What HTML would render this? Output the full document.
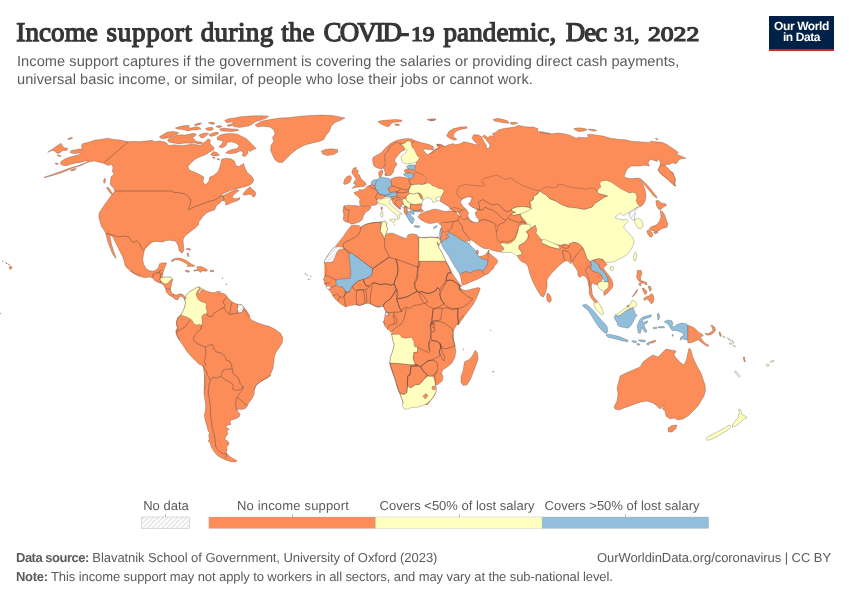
<!DOCTYPE html>
<html lang="en">
<head>
<meta charset="utf-8">
<title>Income support during the COVID-19 pandemic</title>
<style>
html,body{margin:0;padding:0;background:#fff;}
body{text-rendering:geometricPrecision;-webkit-font-smoothing:antialiased;width:850px;height:600px;position:relative;overflow:hidden;font-family:"Liberation Sans",sans-serif;}
#title{position:absolute;left:16.3px;top:15.5px;width:700px;height:32px;font-family:"Liberation Serif",serif;font-weight:normal;-webkit-text-stroke:1.25px #363636;font-size:27px;line-height:32px;color:#363636;white-space:nowrap;}
#title span{position:absolute;top:0;}
.sub{position:absolute;left:16.5px;font-size:14.6px;letter-spacing:0.06px;line-height:17px;color:#5b5b5b;white-space:nowrap;transform-origin:left center;}
#sub1{top:53.8px;}
#sub2{top:71.7px;}
#logo{position:absolute;left:769px;top:16px;width:65px;height:33.2px;background:#002147;border-bottom:2.7px solid #ce261e;color:#fff;font-weight:bold;font-size:12px;line-height:11.6px;text-align:center;letter-spacing:-0.4px;}
#logo span{display:block;}
#logo span:first-child{margin-top:4.8px;}
.leg{position:absolute;top:517px;height:11px;box-sizing:border-box;}
.lt{position:absolute;top:497.6px;font-size:13px;line-height:16px;color:#5b5b5b;white-space:nowrap;transform:translateX(-50%);}
.tick{position:absolute;top:514px;width:1px;height:3px;background:#bbb;}
#title,.sub,.lt,.foot,#logo{will-change:transform;}
.foot{position:absolute;font-size:13px;line-height:16px;color:#5b5b5b;white-space:nowrap;transform-origin:left center;}
.foot b{font-weight:bold;letter-spacing:-0.5px;}
#f2 b{letter-spacing:-0.3px;}
svg#map{position:absolute;left:0;top:0;}
</style>
</head>
<body>
<svg id="map" width="850" height="600" viewBox="0 0 850 600">
<defs>
<pattern id="hatch" patternUnits="userSpaceOnUse" width="3.4" height="3.4" patternTransform="rotate(45)"><rect width="3.4" height="3.4" fill="#fff"/><line x1="1.7" y1="0" x2="1.7" y2="3.4" stroke="#e0e0e0" stroke-width="1.2"/></pattern>
</defs>
<g id="land" stroke="#333" stroke-width="0.27" stroke-linejoin="round">
<g stroke="none">
<path fill="#fc8d59" d="M128.2,141.8L120,140L112.5,139.2L108,138.2L102,139.2L94.5,140.3L88.5,142.2L82.5,143.8L81.3,146L82.5,148.7L79.5,149L75,149.8L70.8,150.8L70.5,152.8L73.5,153.5L78,153.2L81,152.8L80.2,154.2L75,155.8L69,157.2L63.8,159.5L60.8,161.8L60.8,164.3L63.8,165.8L67.5,165.5L70.5,164.3L75,163.2L81,162.2L86.2,160.7L88.5,161L85.5,162.8L81.8,164.3L78,165.8L70.5,167.8L60,171.8L44.2,177.2L44.5,177.8L60,173.3L67.5,170.3L73.5,167.8L81.3,165.5L85.5,163.2L90,161.8L94.5,161L99,162.2L103.5,163.2L106.5,164.8L108.8,165.5L111.8,164.3L113,167.8L112.2,171.5L114,173.8L112.2,176L111,176.8L110.2,184.2L111.8,186.5L113.7,188.3L115,191L150,191L150,141.8Z"/>
<path fill="#fc8d59" d="M128.2,141.8L134,141.4L140,141.8L146,141L152,140.2L155,141.8L159.5,141L164,141.8L167,143.2L168.5,145.5L174.5,144.8L179,145.5L185,145.2L191,144.3L197,144.8L200,145.5L203,143.2L206,141L208.2,138.8L210.5,140.2L209.8,143.2L212,145.5L214.2,147.8L213.5,150L210.5,151.5L208.2,153L206,154.5L200,156.8L195.5,159L191,162.8L188,166.5L188.8,169.5L191.8,171L195.5,172.5L200,174.8L203.8,177L203,181.5L204.5,184.5L206.8,183.8L209,180.8L209.8,177L213.5,175.5L218,171.8L219.5,168L221,162.8L221.8,159L227,158.2L231.5,159L234.5,161.2L236,165.8L239,166.5L243.5,163.5L236,183L218,195L140,195Z"/>
<path fill="#fc8d59" d="M114.8,191L112.5,193.7L108.8,198.9L104.3,204.9L101.8,209L99.2,212.8L98.8,217.2L100.2,222.5L101.8,227L104,230L105.8,233.3L106.7,237.5L107.8,242L109.2,245.8L110.8,249.5L112.2,253.2L114.5,257L116,258.5L115.2,255.5L113.8,251.8L112.7,248L111.5,244.2L110.8,240.5L110,236.8L111.5,235.2L113.8,239L116,243.5L118.2,248L120.5,252.5L122.8,257L124.2,261.5L125,265.2L127.2,268.2L131,271.2L135.5,273.5L140,275L140,275L141.5,260L143.3,251L152,242L170,239L185,230L185,170L114.8,170Z"/>
<path fill="#fc8d59" d="M144.2,251L145.2,248L147.5,245L151.2,242.8L155,241.2L159.5,241.7L163.2,242L165.5,240.8L170,240.2L173,240.8L174.9,240.9L176.4,242.4L177.9,245L178.6,248L179.4,251L181.6,252.9L183.1,252.1L183.8,249.1L183.5,245L183.1,242L183.2,239L185,236L188.8,233L192.5,230L195.5,227.8L198.5,224.8L198.8,221.8L200.8,219.5L202.2,217.2L204.5,215L206.8,212.8L210.5,211.2L215,209.8L215,185L140,185L132.5,230Z"/>
<path fill="#fc8d59" d="M144.2,251L143.3,255.5L142.7,260L143.8,264.5L146,268.2L149,270.5L152.8,271.2L156.5,269.8L158.8,266.8L159.5,263.8L163.2,262.7L166.7,263L165.5,266L164.3,269L163.2,272L162.5,275L140,275L125,245Z"/>
<path fill="#fc8d59" d="M243.5,163.5L245,168L247.2,172.5L251.8,176.2L253.7,180L252.5,183L249.5,185.2L245,186.8L239,188.2L233,189.8L227,192L222.5,194.2L220.2,196.2L221.8,196.2L230,192.3L236,189.6L239,190.5L236,193.1L233,195.3L232.2,198L236,198.8L239.8,197.4L239.4,199.8L236,201.3L231.5,202.8L227.8,204.6L225.5,204.9L225.8,202.5L224,200.7L222.5,200.2L219.5,203.2L216.5,205.5L215,209.2L185,217.5L185,195L227,184.5L240.5,168Z"/>
<path fill="#fc8d59" d="M162.6,275.1L162.2,277.8L166.8,277L170.5,277.3L172.8,279.2L172,282.2L171.2,286L170.5,289.3L171.2,292L173.5,294.2L176.5,295L179.5,293.8L182.5,294.2L184.8,296.5L185.8,298.3L184.8,300.2L183.7,298.3L181.8,296.2L179.2,296.8L178,299.9L175,299.2L172.8,297.2L169.3,295.3L166.4,292.3L165.7,289.3L163.8,285.2L160.8,283.3L157.8,282.2L154.8,280.8L152.5,277.8L149.5,277L145,277.8L139,276.2L134.5,274L130,271L130,265L145,271L160,272.5Z"/>
<path fill="#fc8d59" d="M179.5,340L177.2,335.5L176.5,331.8L178,328L176.8,325L176.5,321.2L178,317.5L181,314.5L183.2,310.8L184.8,307L185.5,302.5L184.8,299.8L185.8,298.3L186.2,295L189.2,292L193,289.8L196.8,287.5L199,286.8L201.2,288.2L199.3,290.8L198.7,293.8L200.2,293.5L200.8,290.5L202.8,288.7L205,290.5L209.5,292L214,292.8L217.8,291.2L220,292.8L223.8,293.5L226,295L227.5,297.2L229.8,299.5L232,301.8L235,303.2L238,304.3L241.8,304.8L244,307.8L246.2,310L250,316L250,340Z"/>
<path fill="#fc8d59" d="M181.2,315L178.2,317.2L176.8,321L176.3,324.8L177.5,327.8L175.7,330.8L176.3,334.5L178.2,338.2L181.2,342.8L184.2,347.2L187.2,351.8L191,356.2L194.8,360L198.5,363.8L202.2,366L203.3,366.8L203.8,370.5L204.5,375L204.8,381L205.2,390L230,390L230,315Z"/>
<path fill="#fc8d59" d="M243.5,308.2L245.8,312L248,315.8L251.8,320.2L257,322.5L263,324.8L269,326.2L275,329.2L280.2,333L282.8,337.5L282.2,342.8L279.5,347.2L275.8,352.5L274.2,357.8L273.8,363L272.8,369L270.5,374.2L266.8,378L261.5,381L257,384L254.8,387.8L254,390L215,390L215,308.2Z"/>
<path fill="#fc8d59" d="M204.8,375L204.5,381L204.2,387L203.9,393L204.8,399L205.7,405L205.4,411L204.2,415.5L205.2,420L206.8,426L208.2,431.2L209.8,432.8L208.7,435L209.3,439.5L208.2,441L210.2,443.2L211.2,447L213.5,450.8L215.8,453.8L218,456L221.8,458.2L226.2,460.2L230.8,461.7L235.2,462L237.2,460.8L234.5,459.3L230.8,457.2L227.8,454.5L226.2,453L227,450L226.7,447L229.2,444L227.8,441L224.8,439.5L225.8,436.5L227.8,434.2L227,431.2L229.2,429L227,427.8L225.8,426.8L227.8,425.2L230.8,424.5L230,421.5L231.2,420L236,418.8L239,417L240.2,414.3L238.2,411.8L236.8,409.8L239,409.2L242,409.5L245.8,408.3L247.2,405.8L248.8,402.8L251.8,399L254,394.5L254.4,390L255.5,386.2L258.5,383.2L263,380.2L267.5,378L270.5,375.8L271.2,375Z"/>
<path fill="#fc8d59" d="M324.4,262.8L324.4,261.3L327.4,256.1L330.4,251.6L332.7,248.6L335.2,246.8L337.5,243.8L340.5,240L343.5,236.2L345.8,232.5L348.8,228.8L351,225.8L354.8,225L359.2,225.8L360.8,227.2L366,224.2L372,222.8L378,222.3L381.8,222L384.8,221.2L387,222.8L386.2,225.8L387.8,228.8L386.2,232.5L385.2,235.5L387.8,233.2L393,233.2L398.2,235.5L403.5,237.8L406.5,238.5L408,234.8L412.5,233.7L417,234.8L418.2,237L423,237.8L429,237L435,237.3L438.8,237L438.8,285L324.4,285Z"/>
<path fill="#fc8d59" d="M324.5,262.8L326,267.2L326.3,271.8L325.2,275.5L323.3,279.2L325.2,283L326.8,286.8L329,289.8L331.2,292.8L332.8,295.8L335,298.8L338,301.8L341.8,304.8L345.5,307L350,305.5L355.2,304.8L359.8,305.5L363.5,304.3L368,303.2L372.5,304.8L376.2,306.7L380,307L382.2,304.8L384.5,308.5L386,311.5L385.2,314.5L384.5,318.2L383.8,322L386,325L440,325L440,262.8Z"/>
<path fill="#fc8d59" d="M418.8,237.2L424,238L430,237.2L435.2,237.7L439.3,238.3L440.5,241.8L439.3,245.2L436.8,241.8L438.2,246.2L441.2,251.5L444.2,257.5L445.8,261.2L448,265L450.2,269.5L453.2,274.8L456.2,279.2L459.2,283L461.5,286L460,287.5L462.2,289.8L466,290.5L472,289L478,287.5L480.2,288.2L478.8,292.8L476.5,298L473.5,304L469,310L464.5,316L460.8,321.2L458.5,325L400,325L400,244Z"/>
<path fill="#fc8d59" d="M383,321L384.5,325.5L387.5,329.2L390.5,331.5L391.7,334.5L392.8,339.8L394.2,345L392.8,351L390.5,357L389.8,363L391.2,369L393.5,375L395.8,381L397.2,387L398.8,391.5L401,396.8L402.5,401.2L403.2,405L425,405L425,321Z"/>
<path fill="#fc8d59" d="M464,315L460.2,319.5L457.2,324L454.2,329.2L452.8,333L453.5,339L455,345.8L455.8,351L455,357L452,363L447.5,366.8L443,369.8L441.5,372.8L443,376.5L442.2,381L438.5,384L435.5,385.5L436.2,389.2L435.8,393L433.2,397.5L430.2,401.2L427.2,405L410,405L410,315Z"/>
<path fill="#fc8d59" d="M414.5,140.5L417,141.2L421,142.5L425,143.5L429,144.5L432.5,146L434,148L433,150L429,149.5L425,149L422.5,149.5L424,151L425.5,153L427.5,154.5L430,153.5L433,152.5L434,151L435,149.5L438,149L440.5,147.5L439.5,145.5L436.5,144.5L439,144L442.5,145L445,147L445,175L416,175L415.8,164.5L416.2,163L417,160.2L416,157L414,151L411,147L410.2,141.8Z"/>
<path fill="#fc8d59" d="M415,165L415,168L414.5,170.2L416,172.2L420,173.5L424,175.5L426.5,178.5L426,181L424.5,182.5L425,184L428,183L430,183.5L432,185.5L435,186.5L439,188.5L443,189L444,191.5L442.5,194L441.5,196.4L440.9,198L440.3,199.5L439.7,200.7L441.5,202L444,203.5L446.4,205L448.6,206.6L450.1,208.4L450.8,209.7L475,209.5L475,165Z"/>
<path fill="#fc8d59" d="M430,153.6L433.8,150.2L438.2,148L436.8,144.7L441.2,145L442.8,147.2L448,145L453.2,143.5L454.8,144.7L460,143.8L463.8,141.7L469,142.8L474.2,144.2L478.8,145L475,142L472,138.2L473.5,134.8L478,134.8L481.8,136.8L483.2,140.5L486.2,145L487,148.8L489.2,148L490,145L487.8,142L485.2,138.7L482.5,136L484.8,135.2L487.8,137.5L490.8,135.7L494.5,136.8L492.2,133.8L496,132.2L498.2,130L503.5,128.5L509.5,127.8L514.8,127L518.5,125.2L522.2,126.2L527.5,127L533.5,127L538,128.8L537.2,131.2L541.8,131.8L546.2,132.7L550,133.3L550,195.2L430,195.2Z"/>
<path fill="#fc8d59" d="M540,132.7L546,133.3L552,133.8L558,133L564,133.8L570,135.2L576,138.2L579,137.2L585,137.8L588.8,137.2L587.2,134.8L591,134.2L597,135.2L603,136L610.5,138.2L618,139.3L625.5,139.8L631.5,141.2L639,141.7L645,142.3L650,142.4L650,160.3L540,160.3Z"/>
<path fill="#fc8d59" d="M650,159.4L648,163L649.5,166L645,165.2L639,166L631.5,166L627,169L624,176.5L627,178L633,178.8L638.2,178L638.2,195.2L540,195.2L540,159.4Z"/>
<path fill="#fc8d59" d="M650,141.2L656,141.7L662,142.3L666.5,144.2L671,147.2L675.5,150.2L678.5,152.5L676.2,154L681.5,156.2L686,158.2L681.5,158.8L678.5,160L677,163L674.8,163.8L672.5,162.7L669.5,164.5L665.8,164.5L664.2,166.8L665,169L669.5,170.5L673.2,172.8L674,176.5L675.5,179.5L674.8,183.2L675.5,186.2L672.5,184L668.8,180.2L665,177.2L661.2,174.2L658.2,170.5L659.8,167.5L660.5,163L659,159.2L656.8,161.5L653,160L650,159.2Z"/>
<path fill="#fc8d59" d="M638.2,178.1L640,180L643,184.5L645.2,189.8L646,195.8L645.2,201L643,204.8L640,207L637.8,206.2L625,210L580,210L580,180L623.5,180Z"/>
<path fill="#fc8d59" d="M451.2,175L560,175L560,265L530,265L525.5,256L522.5,252.2L515,250.8L506,250L497.8,249.2L491,247L485,245.5L479,241L472.2,238L468.5,235L461,235L452,230.5L446,226L443,224.5L444.5,220L451.2,214L452,210.2L451.2,207.2Z"/>
<path fill="#fc8d59" d="M530,225L620,225L618.5,255L611,261L605,261.8L602,270L596,270L590,276L585.5,270L580.2,273L575,264.8L572,260.7L567.5,258.8L562.2,260.2L556.2,264.8L550.2,270.8L545,279.8L545,288L542.3,295.2L538.7,288.8L533.8,277.5L531.5,273Z"/>
<path fill="#fc8d59" d="M360,193L368,188.2L377,185L380,179L392,180.5L405,179L414,178L414,195L405,197L399,199L397,195L389,195L378,199L368,204.5L361.5,203.5Z"/>
<path fill="#fc8d59" d="M401,185L425,185L425,191L421,195L420.5,203L420,209L410,210L406,207L403,205Z"/>
</g>
<g fill="none">
<path d="M128.2,141.8L120,140L112.5,139.2L108,138.2L102,139.2L94.5,140.3L88.5,142.2L82.5,143.8L81.3,146L82.5,148.7L79.5,149L75,149.8L70.8,150.8L70.5,152.8L73.5,153.5L78,153.2L81,152.8L80.2,154.2L75,155.8L69,157.2L63.8,159.5L60.8,161.8L60.8,164.3L63.8,165.8L67.5,165.5L70.5,164.3L75,163.2L81,162.2L86.2,160.7L88.5,161L85.5,162.8L81.8,164.3L78,165.8L70.5,167.8L60,171.8L44.2,177.2L44.5,177.8L60,173.3L67.5,170.3L73.5,167.8L81.3,165.5L85.5,163.2L90,161.8L94.5,161L99,162.2L103.5,163.2L106.5,164.8L108.8,165.5L111.8,164.3L113,167.8L112.2,171.5L114,173.8L112.2,176L111,176.8L110.2,184.2L111.8,186.5L113.7,188.3L115,191"/>
<path d="M128.2,141.8L134,141.4L140,141.8L146,141L152,140.2L155,141.8L159.5,141L164,141.8L167,143.2L168.5,145.5L174.5,144.8L179,145.5L185,145.2L191,144.3L197,144.8L200,145.5L203,143.2L206,141L208.2,138.8L210.5,140.2L209.8,143.2L212,145.5L214.2,147.8L213.5,150L210.5,151.5L208.2,153L206,154.5L200,156.8L195.5,159L191,162.8L188,166.5L188.8,169.5L191.8,171L195.5,172.5L200,174.8L203.8,177L203,181.5L204.5,184.5L206.8,183.8L209,180.8L209.8,177L213.5,175.5L218,171.8L219.5,168L221,162.8L221.8,159L227,158.2L231.5,159L234.5,161.2L236,165.8L239,166.5L243.5,163.5"/>
<path d="M114.8,191L112.5,193.7L108.8,198.9L104.3,204.9L101.8,209L99.2,212.8L98.8,217.2L100.2,222.5L101.8,227L104,230L105.8,233.3L106.7,237.5L107.8,242L109.2,245.8L110.8,249.5L112.2,253.2L114.5,257L116,258.5L115.2,255.5L113.8,251.8L112.7,248L111.5,244.2L110.8,240.5L110,236.8L111.5,235.2L113.8,239L116,243.5L118.2,248L120.5,252.5L122.8,257L124.2,261.5L125,265.2L127.2,268.2L131,271.2L135.5,273.5L140,275"/>
<path d="M144.2,251L145.2,248L147.5,245L151.2,242.8L155,241.2L159.5,241.7L163.2,242L165.5,240.8L170,240.2L173,240.8L174.9,240.9L176.4,242.4L177.9,245L178.6,248L179.4,251L181.6,252.9L183.1,252.1L183.8,249.1L183.5,245L183.1,242L183.2,239L185,236L188.8,233L192.5,230L195.5,227.8L198.5,224.8L198.8,221.8L200.8,219.5L202.2,217.2L204.5,215L206.8,212.8L210.5,211.2L215,209.8"/>
<path d="M144.2,251L143.3,255.5L142.7,260L143.8,264.5L146,268.2L149,270.5L152.8,271.2L156.5,269.8L158.8,266.8L159.5,263.8L163.2,262.7L166.7,263L165.5,266L164.3,269L163.2,272L162.5,275"/>
<path d="M243.5,163.5L245,168L247.2,172.5L251.8,176.2L253.7,180L252.5,183L249.5,185.2L245,186.8L239,188.2L233,189.8L227,192L222.5,194.2L220.2,196.2L221.8,196.2L230,192.3L236,189.6L239,190.5L236,193.1L233,195.3L232.2,198L236,198.8L239.8,197.4L239.4,199.8L236,201.3L231.5,202.8L227.8,204.6L225.5,204.9L225.8,202.5L224,200.7L222.5,200.2L219.5,203.2L216.5,205.5L215,209.2"/>
<path d="M162.6,275.1L162.2,277.8L166.8,277L170.5,277.3L172.8,279.2L172,282.2L171.2,286L170.5,289.3L171.2,292L173.5,294.2L176.5,295L179.5,293.8L182.5,294.2L184.8,296.5L185.8,298.3L184.8,300.2L183.7,298.3L181.8,296.2L179.2,296.8L178,299.9L175,299.2L172.8,297.2L169.3,295.3L166.4,292.3L165.7,289.3L163.8,285.2L160.8,283.3L157.8,282.2L154.8,280.8L152.5,277.8L149.5,277L145,277.8L139,276.2L134.5,274L130,271"/>
<path d="M179.5,340L177.2,335.5L176.5,331.8L178,328L176.8,325L176.5,321.2L178,317.5L181,314.5L183.2,310.8L184.8,307L185.5,302.5L184.8,299.8L185.8,298.3L186.2,295L189.2,292L193,289.8L196.8,287.5L199,286.8L201.2,288.2L199.3,290.8L198.7,293.8L200.2,293.5L200.8,290.5L202.8,288.7L205,290.5L209.5,292L214,292.8L217.8,291.2L220,292.8L223.8,293.5L226,295L227.5,297.2L229.8,299.5L232,301.8L235,303.2L238,304.3L241.8,304.8L244,307.8L246.2,310L250,316"/>
<path d="M181.2,315L178.2,317.2L176.8,321L176.3,324.8L177.5,327.8L175.7,330.8L176.3,334.5L178.2,338.2L181.2,342.8L184.2,347.2L187.2,351.8L191,356.2L194.8,360L198.5,363.8L202.2,366L203.3,366.8L203.8,370.5L204.5,375L204.8,381L205.2,390"/>
<path d="M243.5,308.2L245.8,312L248,315.8L251.8,320.2L257,322.5L263,324.8L269,326.2L275,329.2L280.2,333L282.8,337.5L282.2,342.8L279.5,347.2L275.8,352.5L274.2,357.8L273.8,363L272.8,369L270.5,374.2L266.8,378L261.5,381L257,384L254.8,387.8L254,390"/>
<path d="M204.8,375L204.5,381L204.2,387L203.9,393L204.8,399L205.7,405L205.4,411L204.2,415.5L205.2,420L206.8,426L208.2,431.2L209.8,432.8L208.7,435L209.3,439.5L208.2,441L210.2,443.2L211.2,447L213.5,450.8L215.8,453.8L218,456L221.8,458.2L226.2,460.2L230.8,461.7L235.2,462L237.2,460.8L234.5,459.3L230.8,457.2L227.8,454.5L226.2,453L227,450L226.7,447L229.2,444L227.8,441L224.8,439.5L225.8,436.5L227.8,434.2L227,431.2L229.2,429L227,427.8L225.8,426.8L227.8,425.2L230.8,424.5L230,421.5L231.2,420L236,418.8L239,417L240.2,414.3L238.2,411.8L236.8,409.8L239,409.2L242,409.5L245.8,408.3L247.2,405.8L248.8,402.8L251.8,399L254,394.5L254.4,390L255.5,386.2L258.5,383.2L263,380.2L267.5,378L270.5,375.8L271.2,375"/>
<path d="M324.4,262.8L324.4,261.3L327.4,256.1L330.4,251.6L332.7,248.6L335.2,246.8L337.5,243.8L340.5,240L343.5,236.2L345.8,232.5L348.8,228.8L351,225.8L354.8,225L359.2,225.8L360.8,227.2L366,224.2L372,222.8L378,222.3L381.8,222L384.8,221.2L387,222.8L386.2,225.8L387.8,228.8L386.2,232.5L385.2,235.5L387.8,233.2L393,233.2L398.2,235.5L403.5,237.8L406.5,238.5L408,234.8L412.5,233.7L417,234.8L418.2,237L423,237.8L429,237L435,237.3L438.8,237"/>
<path d="M324.5,262.8L326,267.2L326.3,271.8L325.2,275.5L323.3,279.2L325.2,283L326.8,286.8L329,289.8L331.2,292.8L332.8,295.8L335,298.8L338,301.8L341.8,304.8L345.5,307L350,305.5L355.2,304.8L359.8,305.5L363.5,304.3L368,303.2L372.5,304.8L376.2,306.7L380,307L382.2,304.8L384.5,308.5L386,311.5L385.2,314.5L384.5,318.2L383.8,322L386,325"/>
<path d="M418.8,237.2L424,238L430,237.2L435.2,237.7L439.3,238.3L440.5,241.8L439.3,245.2L436.8,241.8L438.2,246.2L441.2,251.5L444.2,257.5L445.8,261.2L448,265L450.2,269.5L453.2,274.8L456.2,279.2L459.2,283L461.5,286L460,287.5L462.2,289.8L466,290.5L472,289L478,287.5L480.2,288.2L478.8,292.8L476.5,298L473.5,304L469,310L464.5,316L460.8,321.2L458.5,325"/>
<path d="M383,321L384.5,325.5L387.5,329.2L390.5,331.5L391.7,334.5L392.8,339.8L394.2,345L392.8,351L390.5,357L389.8,363L391.2,369L393.5,375L395.8,381L397.2,387L398.8,391.5L401,396.8L402.5,401.2L403.2,405"/>
<path d="M464,315L460.2,319.5L457.2,324L454.2,329.2L452.8,333L453.5,339L455,345.8L455.8,351L455,357L452,363L447.5,366.8L443,369.8L441.5,372.8L443,376.5L442.2,381L438.5,384L435.5,385.5L436.2,389.2L435.8,393L433.2,397.5L430.2,401.2L427.2,405"/>
<path d="M414.5,140.5L417,141.2L421,142.5L425,143.5L429,144.5L432.5,146L434,148L433,150L429,149.5L425,149L422.5,149.5L424,151L425.5,153L427.5,154.5L430,153.5L433,152.5L434,151L435,149.5L438,149L440.5,147.5L439.5,145.5L436.5,144.5L439,144L442.5,145L445,147"/>
<path d="M430,153.6L433.8,150.2L438.2,148L436.8,144.7L441.2,145L442.8,147.2L448,145L453.2,143.5L454.8,144.7L460,143.8L463.8,141.7L469,142.8L474.2,144.2L478.8,145L475,142L472,138.2L473.5,134.8L478,134.8L481.8,136.8L483.2,140.5L486.2,145L487,148.8L489.2,148L490,145L487.8,142L485.2,138.7L482.5,136L484.8,135.2L487.8,137.5L490.8,135.7L494.5,136.8L492.2,133.8L496,132.2L498.2,130L503.5,128.5L509.5,127.8L514.8,127L518.5,125.2L522.2,126.2L527.5,127L533.5,127L538,128.8L537.2,131.2L541.8,131.8L546.2,132.7L550,133.3"/>
<path d="M540,132.7L546,133.3L552,133.8L558,133L564,133.8L570,135.2L576,138.2L579,137.2L585,137.8L588.8,137.2L587.2,134.8L591,134.2L597,135.2L603,136L610.5,138.2L618,139.3L625.5,139.8L631.5,141.2L639,141.7L645,142.3L650,142.4"/>
<path d="M650,159.4L648,163L649.5,166L645,165.2L639,166L631.5,166L627,169L624,176.5L627,178L633,178.8L638.2,178"/>
<path d="M650,141.2L656,141.7L662,142.3L666.5,144.2L671,147.2L675.5,150.2L678.5,152.5L676.2,154L681.5,156.2L686,158.2L681.5,158.8L678.5,160L677,163L674.8,163.8L672.5,162.7L669.5,164.5L665.8,164.5L664.2,166.8L665,169L669.5,170.5L673.2,172.8L674,176.5L675.5,179.5L674.8,183.2L675.5,186.2L672.5,184L668.8,180.2L665,177.2L661.2,174.2L658.2,170.5L659.8,167.5L660.5,163L659,159.2L656.8,161.5L653,160L650,159.2"/>
<path d="M638.2,178.1L640,180L643,184.5L645.2,189.8L646,195.8L645.2,201L643,204.8L640,207L637.8,206.2"/>
</g>
<g fill="none" stroke-width="0.38">
<path d="M128.2,141.8L104.2,162.5"/>
<path d="M105.8,233.3L111.5,234.5L117.5,236.8L125,236L128.8,236.8L131,240.5L134,242.8L136.2,240.5L139.2,242.8L141.5,248L144.2,251"/>
<path d="M114.8,191L171.5,191L173,192.2L179,192.8L185,194L188.8,197L191,200L190.2,204.5L188,209L188.8,209.8L192.5,207.5L198.5,205.2L203,203.8L209,201.5L215,200"/>
<path d="M215,199.9L218,198L221,195.8L223.2,196.5L224,199.5L222.8,201"/>
<path d="M152.5,277.8L153.2,274L156.2,272.8L159.2,272.5L160,270.2L162.2,270.2"/>
<path d="M159.2,272.5L160.8,275.5L160,278.5L157.8,281.5"/>
<path d="M162.2,272.5L160.8,275.2"/>
<path d="M166,288.7L170.8,289.3"/>
<path d="M172.8,295.8L173.8,293.8"/>
<path d="M160.8,280.8L160,283.3"/>
<path d="M227.5,297.2L224.5,299.5L223,302.5L225.2,305.5L223.8,307.8"/>
<path d="M206.5,313.8L208,316L211.8,316.8L214,313L217,311.5L220,309.2L223.8,307.8L226,311.5L230.2,314.5L233.5,313.8L238,313L241.8,312.2L244,307.8"/>
<path d="M232,302.2L230.8,307L230.2,311.5L230.2,314.5"/>
<path d="M238.3,304.3L237.2,308.5L238,313"/>
<path d="M176.5,331.8L181,329.5L185.5,326.5L188.5,322L190,319.3"/>
<path d="M200.8,329.2L197.5,331.8L194.5,335.5L193.3,339.2L196,343L199.8,344.8L203.5,346.3L205.3,347.2"/>
<path d="M205.2,347.2L206,352.5L205.2,357.8L204.2,361.5L206,364.5L203.3,366.8"/>
<path d="M205.2,347.2L209.8,345L212.8,344.7L213.5,348L215.8,351.8L221.8,353.2L224.8,356.2L226.2,360L230,361.5L231.5,365.2L232.2,369"/>
<path d="M232.2,369L227.8,369L223.2,370.2L221.8,373.5L221,376.5"/>
<path d="M221,376.5L216.5,378L212.8,377.2L210.5,380.2"/>
<path d="M203.3,366.8L206,370.5L207.5,375L210.5,380.2"/>
<path d="M232.2,369L233,373.5L236.8,376.5L239,379.5L240.2,384L243.2,386.7"/>
<path d="M210.5,380.2L209.3,384L208.7,387L208.2,393L209.3,399L210.2,405L210.5,411L210.8,417L211.7,423L212.3,429L214.2,434.2L215,439.5L215.3,444L216.5,448.5L219.5,451.5L223.2,453.8L226.7,453.8L225.5,458.2"/>
<path d="M236.8,409.8L235.7,405L236,399.8L237.2,397.2L240.5,399.8L244.2,402.8L247.2,405.8"/>
<path d="M237.2,397.2L239.3,393.8L242.8,389.2L243.2,386.7"/>
<path d="M221,376.5L226.2,380.2L231.5,383.2L233.8,386.2L232.2,388.8L236,390.3L239.8,389.7L243.2,386.7"/>
<path d="M360.8,227.2L366,224.2L372,222.8L378,222.3L381.8,222L381,226.5L380.2,231L383.2,235.5L384.8,239.2L384.3,244.5L385.5,249.8L388.5,255L389.2,257.2L381,262.5L372.8,268.5L368.2,265.5L362.2,261L356.2,256.5L350.2,252.8L344.2,248.2L343.2,246.8L343.5,243.8L345.8,241.5L350.2,240L354,237.8L357.8,235.5L360,231.8L360.8,227.2"/>
<path d="M417,267L419.6,266.7L419.7,261.1"/>
<path d="M418.2,237L418.8,247.5L419.2,261"/>
<path d="M343.2,247.8L349.2,253.8"/>
<path d="M325.2,275.5L329,276.2L332.8,278.5L335.8,280"/>
<path d="M324.5,283.3L330.2,283"/>
<path d="M372.5,268.8L389,257.5L395.8,259L397.2,263.5L398,269.5L397.2,275.5L395,280L394.2,283.8L391.2,285.2L386,283.8L380,284.5L375.5,283L372.5,283L369.5,286L366.5,286L364.2,283L363.5,279.2L368.8,277L371.8,274.8L372.5,268.8"/>
<path d="M395.8,259L418.2,267.2L417.5,278.5L415.2,283L414.5,286.8L417.5,291.2L413,293.5L407.8,296.5L402.5,298L398,298.8L395.8,294.2L397.2,289.8L395,286L394.2,283.8L395,280L397.2,275.5L398,269.5L397.2,263.5L395.8,259"/>
<path d="M372.5,283L375.5,283L380,284.5L386,283.8L391.2,285.2L394.2,283.8L395,286L395.8,289.8L393.5,294.2L390.5,298.8L387.5,301L384.5,303.2L383,306.2L380,307L376.2,306.7L372.5,304.8L370.2,303.2L370.2,298L371,292L371.8,286.8L372.5,283"/>
<path d="M354.5,283.8L358.2,280.8L363.5,279.2L364.2,283L366.5,286L369.5,286.3L367.2,289L363.5,289.8L359,289.8L356,290.5L353.8,289L352.2,286.8L354.5,283.8"/>
<path d="M356.8,290.5L359,289.9L363.5,289.9L364.2,295L365,301L363.5,304.3L359.8,305.5L356.8,304.8L356,298L356.8,290.5"/>
<path d="M365.8,289.8L366.5,295L366.8,303.2"/>
<path d="M345.5,292.8L350,291.7"/>
<path d="M345.8,306.7L344.8,301.8L344,297.2L345.8,292.3L344,289.3"/>
<path d="M329,289.8L331.2,287.5L336.2,285.2"/>
<path d="M332.8,295.8L335,295L337.2,293.8L339.5,296.5L338,301"/>
<path d="M339.5,296.5L342.5,297.7L344.8,295L345.8,292.3"/>
<path d="M384.5,308.5L383,306.2L384.5,303.2L387.5,301L390.5,298.8L393.5,294.2L395.8,289.8L397.2,289.8L398,295L396.5,298.8L398,303.2L399.5,307.8L401.8,311.5L398,312.2L393.5,312.2L388.2,312.7L386,311.5L384.5,308.5"/>
<path d="M398,298.8L402.5,298L407.8,296.5L413,293.5L417.5,291.2L422,294.2L425,298L428,301.8L425,303.2L419,304.8L413.8,305.5L410,308.5L406.2,307L402.5,309.2L401.8,311.5L399.5,307.8L398,303.2L396.5,298.8L398,298.8"/>
<path d="M388.4,315.4L388.7,312.7"/>
<path d="M393.5,312.4L394.2,316L397.2,319L396.5,323.5L393.5,325"/>
<path d="M418.8,261.2L445.8,261.2L448,265L450.2,269.5L451,272.5L448,273.2L446.5,277L445.8,280.8L443.5,284.5L441.2,286.8L439.8,289.8L437.5,287.5L436,290.5L433,292L429.2,293.5L424.8,292.8L421,291.2L418.8,292.8L416.5,290.5L415,286.8L414.2,282.2L416.5,278.5L417.2,272.5L417.7,267.2L418.8,261.2"/>
<path d="M451,272.5L448,273.2L446.5,277L446.5,280.8L450.2,280L453.2,280.8L456.2,283L459.2,285.6L461.5,286.3"/>
<path d="M459.2,285.7L459.7,289.8L462.2,289.8"/>
<path d="M446.5,280.8L450.2,280L453.2,280.8L456.2,283L459.2,285.6L459.7,289.8L462.2,292L467.5,296.5L472.8,298.8L467.5,304L463,307L457.8,308.5L452.5,309.2L448,307L444.2,304L441.2,299.5L439.8,295L441.2,291.2L443.5,286.8L445.8,283L446.5,280.8"/>
<path d="M457.8,308.5L457.8,316L458.5,325"/>
<path d="M418.8,292.8L421,291.2L424.8,292.8L429.2,293.5L433,292L436,290.5L437.5,287.5L439.8,289.8L439.8,295L441.2,299.5L444.2,304L441.2,305.5L437.5,307.8L433.8,308.5L430,307L426.2,304.8L422.5,301L420.2,297.2L418.8,292.8"/>
<path d="M389.8,363L395,363.3L402.5,363.8L410,364.8L415.2,364.5L417.5,364.8L417.2,366L410.8,366.3L410,375L407.8,375.8L407.3,385.5L407,393L404,394.5L400.2,393L398.8,391.5L389.8,363"/>
<path d="M410.8,366.3L417.2,366L420.5,366.8L423.5,371.2L427.2,375L425,378L422,381.8L419,384.8L415.2,384.8L413,387L409.2,388.5L407.3,385.5L407.8,375.8L410,375L410.8,366.3"/>
<path d="M420.5,366.8L424.2,363.8L428,360.8L432.5,360L436.2,361.5L437.8,366L437,371.2L434,375L430.2,376.5L427.2,375L423.5,371.2L420.5,366.8"/>
<path d="M413.8,352.5L417.5,351.8L417.5,347.2L420.5,348.8L425,351L428.8,352.5L430.2,351L428.8,348.8L428.8,342.8L431.8,340.5L437,341.2L440,343.5L440.8,347.2L439.2,351.8L440,355.5L436.2,357.8L432.5,360L428,360.8L424.2,363.8L420.5,366.8L417.5,364.8L415.2,364.5L413,358.5L413.8,352.5"/>
<path d="M440,343.5L441.5,347.2L442.2,352.5L444.5,356.2L444.2,360.8L442.2,359.2L440.8,355.5L439.2,351.8L440.8,347.2L440,343.5"/>
<path d="M431.8,321.8L438.5,321L444.5,323.2L452,328.5L453.5,333L452.8,339L455,345.8L451.2,347.2L446,348.8L441.5,348L440,343.5L437,341.2L431.8,340.5L430.2,334.5L431,329.2L430.2,325.5L431.8,321.8"/>
<path d="M430.2,325.5L433.2,324.8L432.5,321.8"/>
<path d="M430.7,323.2L432.8,323.2"/>
<path d="M387.5,329.2L389,325.5L393.5,324L395,319.5L392.8,316.5L395,315"/>
<path d="M434.8,375.8L435.2,381L435.5,385.5"/>
<path d="M437,371.2L434.8,375.8"/>
<path d="M416,162L416.4,163.4L415.2,164.7"/>
<path d="M441.5,196.4L440.9,198L440.3,199.5L439.7,200.7L441.5,202L444,203.5L446.4,205L448.6,206.6L450.1,208.4L450.8,209.7"/>
<path d="M406.2,307.8L405.5,313L404,319L401,324.2L397.2,326.5L393.5,329.5L391.2,331.8"/>
<path d="M433.2,309.2L432.5,314.5L431.8,319.8L431,323.5L430.2,328L431.8,331.8L431,336.2L429.5,340L428.8,344.5L429.5,350.5"/>
<path d="M433.2,309.2L437.8,307.8L442.2,308.5L441.5,313.8L440.8,319.8L435.5,320.8L431.8,320.2L432.5,314.5L433.2,309.2"/>
<path d="M442.2,308.5L446,307.8L452,309.2L458,308.5"/>
<path d="M458,308.5L457.7,316L458.3,323.5"/>
<path d="M431,323.5L434,322.8L434.3,326.8L431.8,328"/>
<path d="M434.3,326.8L434.8,331L432.2,332.2"/>
<path d="M200,266.8L200.2,272"/>
</g>
<g>
<path fill="#fc8d59" d="M47.7,152.3L52.5,149L60.8,143.3L62.2,145.2L63.8,147.8L67.5,148.2L67.2,150.2L62.2,150.8L60,152.8L57,153.5L54.8,151.2L52.5,150.2L49.5,151.7Z"/>
<path fill="#fc8d59" d="M72.7,137.8L72.1,138.5L70.4,139.2L68.6,139.5L67.7,139.2L68.3,138.5L70,137.8L71.8,137.5Z"/>
<path fill="#fc8d59" d="M61.4,156.3L60.7,156.6L59.1,156.3L57.6,155.7L57.1,155.2L57.8,154.9L59.4,155.2L60.9,155.8Z"/>
<path fill="#fc8d59" d="M58.2,164L57.7,164.4L56.6,164.4L55.6,164L55.2,163.4L55.7,163L56.8,163L57.8,163.4Z"/>
<path fill="#fc8d59" d="M76.3,168.7L75.7,169.6L73.8,170.5L71.7,171L70.7,170.7L71.3,169.8L73.2,168.9L75.3,168.4Z"/>
<path fill="#fc8d59" d="M106.5,187.7L108.3,187.2L111,191L112.5,194.3L111,194L108,190.2Z"/>
<path fill="#fc8d59" d="M105.4,181L104.9,182.7L104.1,183.3L103.6,182.5L103.7,180.6L104.2,178.9L105,178.3L105.5,179.1Z"/>
<path fill="#fc8d59" d="M217.2,137.2L220.2,135L225.5,133.8L231.5,133.5L237.5,134.2L242,136.5L246.5,138.8L249.5,141.8L253.2,145.5L256.2,148.5L252.5,150L250.2,151.5L247.2,150L248,153L245,156.8L242,155.2L243.5,152.2L240.5,150.8L236,153L230,153.8L225.5,153L228.5,150.8L233,149.2L237.5,148.5L239,145.5L236,143.2L231.5,141.8L227,142.5L226.2,145.5L222.5,147.8L218.8,147L221.8,144L223.2,141L219.5,140.2L217.2,139.5Z"/>
<path fill="#fc8d59" d="M210.5,154.5L213.5,151.5L217.2,152.7L219.5,155.2L215.8,156L212.8,155.7Z"/>
<path fill="#fc8d59" d="M215.2,158.3L214.7,158.6L213.6,158.4L212.7,157.8L212.4,157.3L212.9,157L214,157.2L214.9,157.8Z"/>
<path fill="#fc8d59" d="M219.6,159.8L219.1,160L218.1,159.9L217.3,159.4L217,158.8L217.5,158.6L218.5,158.7L219.3,159.2Z"/>
<path fill="#fc8d59" d="M255,125L261.2,121.2L270,119.5L280,118L290,117.5L300,116.2L310,115.5L322.5,115L332.5,115.5L340,117L345,118L341.2,120L335,122.5L331.2,126.2L329.5,131.2L326.2,135L323.8,139.5L320,141.2L312.5,143L305,145L297.5,148.8L291.2,153.8L286.2,158.8L282.5,162.5L278.8,162.5L275,160L272.5,155L270.5,150L271.2,145L273.8,141.2L272.5,137.5L275,133.8L273.8,130L270,127L262.5,126.2L257.5,127Z"/>
<path fill="#fc8d59" d="M321.2,151.2L325,149.5L331.2,148.8L337.5,149.5L338,152L333.8,154.5L327.5,155.5L323,154.2Z"/>
<path fill="#fc8d59" d="M242.8,194.2L245,191.2L248,188.2L250.2,186.8L252.2,189.3L254,190.5L255.8,192.8L255.2,195.8L253.2,197.2L251.8,195L249.5,194.2L246.5,195L244.2,195Z"/>
<path fill="#ffffbf" d="M160,278.5L162.2,277.4L166.8,277L170.5,277.3L172.8,279.2L170.5,280L169,282.2L166.8,283.8L164.5,283.8L162.2,282.2L160.8,280.8Z"/>
<path fill="#ffffbf" d="M181,314.5L183.2,310.8L184.8,307L185.5,302.5L184.8,299.8L185.8,298.3L186.2,295L189.2,292L193,289.8L196.8,287.5L199,286.8L199.3,289L197.5,291.2L196,293.5L196.8,296.5L198.2,299.5L201.2,301.8L205,302.5L206.5,304.8L205.8,307.8L207.2,311.5L206.5,313.8L203.5,314.5L201.7,316.8L202.3,320.5L202,325L200.8,329.2L201.6,325L199.8,324.6L196,325L193.8,323.5L192.2,320.5L189.2,318.2L186.2,316.8L183.2,316Z"/>
<path fill="url(#hatch)" d="M238.3,304.3L241.8,304.8L244,307.8L241.8,312.2L238.3,313L237.2,308.8Z"/>
<path fill="url(#hatch)" d="M220.9,291.4L220.6,291.8L220,292L219.4,291.8L219.1,291.4L219.4,291L220,290.8L220.6,291Z"/>
<path fill="#fc8d59" d="M343.5,183.5L344.5,179.5L347,176.5L350,175.5L351.5,177L351,180L349.5,182.5L346.5,184L344.5,184.5Z"/>
<path fill="#fc8d59" d="M352,171L353.5,168L356.5,167.5L356,170L358.5,170.5L357.5,173.5L359.5,175L361,178.5L363.5,181L365.5,182.5L366,185L363.5,186.5L359,187L355,187.5L352,188.5L354.5,186L356,184.5L353.5,183.5L354.5,181L356.5,180L355,177.5L353.5,175L352,173.5Z"/>
<path fill="#fc8d59" d="M354,192.5L358.5,191L359.5,189.5L362,190L365,189L367,186.5L369,185.5L371.5,187.5L374.5,189L377,190.5L378,192.5L376.5,195L375.5,197L376.5,199L377,201.5L378,203L376,205L372.5,205.5L370,206.5L368,207L364.5,207L360,205.5L359.5,202L360,199L357.5,196L355,194.5Z"/>
<path fill="#91bfdb" d="M371,183L372.5,180.5L375,179.5L377,179.8L376,182.5L375,185L375,186L373.5,185.5L371.5,184.8Z"/>
<path fill="#fc8d59" d="M369,185.5L371.5,184.8L373.5,185.5L375,186L375.5,188.5L377,190.5L374.5,189L371.5,187.5Z"/>
<path fill="#91bfdb" d="M377,179.8L379.5,177.5L383,177.2L386,178L389.5,178.5L391,181L391.5,184.5L390.5,187L388,188.5L389,190.5L390.5,192.5L389.5,194.5L387,195L384,195.5L382,194.5L379,194.2L378,192.5L377,190.5L375.5,188.5L375,186L376,182.5Z"/>
<path fill="#fc8d59" d="M378.5,172.5L380.5,170.5L382.5,170L382.8,172.5L382,175L381,176.8L379.5,177.2L378.8,174.5Z"/>
<path fill="#fc8d59" d="M384.5,174L386.5,173.5L387,175L385.5,176Z"/>
<path fill="#fc8d59" d="M391,179L395,177.2L400,176.8L405,177.5L408.5,178.5L409.5,182L410.5,185.5L409,188.5L407,190L404,189.5L400.5,188.8L397,187.5L393.5,186.2L391.5,184.5L391,181Z"/>
<path fill="#fc8d59" d="M388,188.5L390.5,187L393.5,186.2L397,187.5L400.5,188.8L399,191L396,192L393.5,192.2L390.5,192.5L389,190.5Z"/>
<path fill="#91bfdb" d="M384,195.5L387,195L389.5,194.5L390.5,192.5L393.5,192.2L396,192L397.5,194.5L396.5,196.2L393.5,196.8L390.5,197.2L388,196.4L385.5,196.4Z"/>
<path fill="#fc8d59" d="M376.5,195L378,192.5L379,194.2L382,194.5L384,195.5L385.5,196.4L383.5,197.6L381,198.6L378.5,199L376.8,200L376.5,199L375.5,197Z"/>
<path fill="#fc8d59" d="M399,191L400.5,188.8L404,189.5L407,190L409,188.8L408.5,191.5L405,192.5L401,193L398.5,192.8L396,192Z"/>
<path fill="#fc8d59" d="M397.5,194.5L396,192L398.5,192.8L401,193L405,192.5L408.5,191.6L409.5,193.5L407,196L404,197.7L400.5,198.2L398,197.2L396.5,196.2Z"/>
<path fill="#fc8d59" d="M390.5,197.2L393.5,196.8L396.5,196.2L398,197.2L396,198L393.5,199L391.5,199Z"/>
<path fill="#fc8d59" d="M391.5,199L393.5,199L396,198L398,197.2L400.5,198.2L402.5,199.5L401,200.5L398,200L396,200.5L395,202.5L397,205L399,207L401,209L400,209.5L396.5,207L394,204.5L392.5,202Z"/>
<path fill="#fc8d59" d="M396,200.5L398,200L401,200.5L403,202L402.5,204.5L401,206.5L400,208L399,207L397,205L395,202.5Z"/>
<path fill="#fc8d59" d="M378,121.5L382,120.5L388,120L395,119.5L401.5,120L402,121.2L398,122L394,122.2L391,123.5L389.5,126L387.5,126.8L384,125.5L381,124L379,122.8Z"/>
<path fill="#fc8d59" d="M394.5,124.2L397,123.8L399.5,124.5L399,125.5L396,125.5Z"/>
<path fill="#fc8d59" d="M427,119.5L431,119L436,119.2L435,120.2L431,120.8L428.5,120.2Z"/>
<path fill="#fc8d59" d="M372.5,159L373.5,157L377,155L381,153L384.5,149L387.5,146L390.5,143.5L394,141.5L398,140L403,139L408,138.5L412,139L414.5,140.5L414,142L412,142.5L411,141.8L409.5,140.8L407.5,141L406,142.2L404,143.8L401.5,144L399.5,143.3L398,142.3L396,142.8L393.5,143.8L390.5,145.8L389,148.8L387.5,151.8L385,154.3L384.5,157L385,160L385.5,163L384.5,166L383.5,168L381.5,169L379,168.5L376,167.5L374,166L373,163Z"/>
<path fill="#fc8d59" d="M398,142.3L399.5,143.3L402,145L403.5,146.5L405,149L404.5,150L401.5,151.5L399.5,153.5L397.5,156L395.5,158.5L394.5,161L396,162.5L397,164.5L395.5,166.5L394,169L393.5,172L392,174L390.5,175.5L386.5,175.5L385,172L384,169L383.5,168L384.5,166L385.5,163L385,160L384.5,157L385,154.3L387.5,151.8L389,148.8L390.5,145.8L393.5,143.8L396,142.8Z"/>
<path fill="#ffffbf" d="M399.5,143.3L401.5,144L404,143.8L406,142.2L407.5,141L409.5,140.8L411,142L411.5,144.5L412,147L414.5,149.5L416,153L417.5,156L419.5,158L418.5,160L416,162L413.5,163L410,163.7L406.5,164L403.5,163L401.8,161L401,158L401.5,156L403.5,154.5L406,152.5L407,150.5L405,149L403.5,146.5L402,145Z"/>
<path fill="#91bfdb" d="M406.5,166.5L409,165L415,165L415,168L414.5,170.2L411,169.7L408,168.7Z"/>
<path fill="#fc8d59" d="M404,171L405,169.5L408,168.7L411,169.7L414.5,170.2L416,172.2L414,175L412,173.3L409,172.9L406,173.3Z"/>
<path fill="#91bfdb" d="M403.5,174L406,173.3L409,172.9L412,173.3L414,175L413.5,177L411.5,178.5L408.5,178.5L407,176.5L404.5,175.8Z"/>
<path fill="#fc8d59" d="M414,175L416,172.2L420,173.5L424,175.5L426.5,178.5L426,181L424.5,182.5L425,184L422,184.7L419,184.2L415,184.6L411,185L410,182.5L409,181L411.5,178.5L413.5,177Z"/>
<path fill="#ffffbf" d="M411,185L415,184.6L419,184.2L422,184.7L425,184L428,183L430,183.5L432,185.5L435,186.5L439,188.5L443,189L444,191.5L442.5,194L441.5,196.4L439.7,196.7L437.2,197.3L435.3,198.3L435.7,199.5L436.6,200.1L438.1,200.7L437.2,201.3L435.3,201.6L433.8,202.6L432.9,202.3L432.3,201L431.3,198.9L429,198L427,197L425,198.5L423.5,199.7L422.5,197.5L421.8,195.5L420,193.5L418.2,193L417,193.2L413.5,194.2L410.5,193.7L408.5,192.8L409,189.5L410.5,187Z"/>
<path fill="#fc8d59" d="M418.2,193L420,193.5L421.8,195.5L422.5,197.5L422,199.2L420.8,198.5L420,196.5L419,195Z"/>
<path fill="#ffffbf" d="M408.5,194L410.5,193.7L413.5,194.2L417,193.2L418.2,193L419,195L420,196.5L420.8,198.5L422,199.5L423.5,199.8L422.5,201.5L421.5,203.8L418.5,204.2L415,204.7L412.5,204.2L410,203.2L407.5,201.5L406,199.5L406.5,196.5Z"/>
<path fill="#ffffbf" d="M402.5,199.5L405,198.5L406,199.5L407.5,201.5L410,203.2L410.5,205L410.5,207L409,208.2L407,208L407,206.5L405,206L403.5,204.5L403,202Z"/>
<path fill="#fc8d59" d="M410.5,205L412.5,204.2L415,204.7L418.5,204.2L421.5,203.8L422,205.5L421,207.5L421.5,209.2L419,210.2L416,210.7L413,210.7L410.8,209.2L410.5,207Z"/>
<path fill="url(#hatch)" d="M407,208L409,208.2L410.8,209.2L410.7,211.2L408.5,212L406.8,211.2Z"/>
<path fill="url(#hatch)" d="M401.2,205L403.5,204.5L405,206L404,207L402.8,207.8L401.5,206.8Z"/>
<path fill="#fc8d59" d="M405,206L407,206.5L407,208L406,208.2L405.2,207.2Z"/>
<path fill="#fc8d59" d="M404,207L405.2,207.2L406,208.2L407,208.2L406.8,211.2L407.5,213.2L406.2,215L404.5,213.5L403.8,210.5Z"/>
<path fill="#91bfdb" d="M406.8,211.2L408.5,212L410.7,211.2L413,210.7L416,210.7L419,210.2L419.5,211.5L417.5,212L415,211.5L413.5,212.5L414.5,214L412.5,214.5L411.5,213L410,214L411.5,216L413.5,218L414.5,220L413,220.5L413.5,222.5L412,224L410,222L408.5,219.5L407,217L406.2,215L407.5,213.2Z"/>
<path fill="#fc8d59" d="M419,210.2L421.5,209.2L423.5,210.5L422.5,212L420.5,212.2L419.5,211.5Z"/>
<path fill="#ffffbf" d="M377.5,201.5L379.5,200L382,199L385,198L388,197.5L390,198.5L391,200L389.5,201L389,202.5L390,204.5L392.5,206.5L395.5,209L398.5,211.5L401,213L402,214.5L400,214L399,215L400,217L398.5,219.5L397,219L397.5,217L396.5,215L394.5,213L391.5,211L389,208.5L386.5,206L384,204.5L381,204L379,203.5Z"/>
<path fill="#ffffbf" d="M389.5,220L392.5,219L395.8,219.5L395,221.5L393.5,222.5L391,221.2Z"/>
<path fill="#ffffbf" d="M380.8,212L382.5,211.5L383,214L382.8,216.5L381.2,216.8L380.6,214.5Z"/>
<path fill="#fc8d59" d="M381,207.5L382,206.5L382.5,208.5L381.8,210L381,209.5Z"/>
<path fill="#91bfdb" d="M414,225.8L416.5,225.5L419.5,226L419.8,227.2L417,227.5L414.5,227Z"/>
<path fill="#91bfdb" d="M433.2,227.5L435,226.5L437.2,225.5L436.8,227L435,228.2L433.8,228.5Z"/>
<path fill="#fc8d59" d="M394.8,225L394.7,225.2L394.5,225.2L394.3,225.2L394.2,225L394.3,224.8L394.5,224.8L394.7,224.8Z"/>
<path fill="#fc8d59" d="M343.9,205.9L348,205.2L355.5,205.5L362.2,206.4L368.2,205.8L371.2,207.3L369.3,210L365.7,212.2L363.3,216L362.2,219.8L359.2,222L354.8,223.5L351,224.2L349.2,222.8L348.3,222.3L347.7,219L348.3,214.5L349.2,210L345,209.2Z"/>
<path fill="#fc8d59" d="M343.9,205.9L345,209.2L349.2,210L348.3,214.5L347.7,219L348.3,222.3L345,221.7L343.2,219.8L343.8,214.5L342.8,210.8Z"/>
<path fill="url(#hatch)" d="M335.2,246.8L343.2,246.8L343.2,249L339,249.8L336.8,252.8L335.2,256.5L333.3,261.8L325.2,262.8L324.4,261.3L327.4,256.1L330.4,251.6L332.7,248.6Z"/>
<path fill="#ffffbf" d="M381.8,222L384.8,221.2L387,222.8L386.2,225.8L387.8,228.8L386.2,232.5L385.2,235.5L384.3,239.2L383.2,235.5L380.2,231L381,226.5Z"/>
<path fill="#91bfdb" d="M349.2,253.8L351.5,253L372.5,268.8L371.8,274.8L368.8,277L363.5,279.2L358.2,280.8L354.5,283.8L351.5,286.8L350,291.2L346.2,292L344,289L342.5,286.8L338.8,286.8L336.2,284.5L335.8,280L339.5,279.2L344.8,278.8L350,278.2L350.8,272.5L350,265L349.2,257.5Z"/>
<path fill="url(#hatch)" d="M325.7,286.3L329,286L331.2,286.8L330.5,289L328.2,289.3L326.3,287.8Z"/>
<path fill="url(#hatch)" d="M385.2,312.7L388.2,312.7L388.4,315.2L385.2,315.2Z"/>
<path fill="#ffffbf" d="M418.8,237.2L424,238L430,237.2L435.2,237.7L439.3,238.3L440.5,241.8L439.3,245.2L436.8,241.8L438.2,246.2L441.2,251.5L444.2,257.5L445.8,261.2L418.8,261.2Z"/>
<path fill="#ffffbf" d="M391.7,334.5L399.5,334.2L401.8,337.5L406.2,338.2L411.5,337.2L413.8,341.2L414.5,346.5L417.5,347.2L417.5,351.8L413.8,352.5L413,358.5L415.2,364.5L410,364.8L402.5,363.8L395,363.3L389.8,363L390.5,357L392.8,351L394.2,345L392.8,339.8Z"/>
<path fill="#ffffbf" d="M390.8,331.8L392.3,331.2L392.8,333.8L391.2,333.8Z"/>
<path fill="#fc8d59" d="M475.2,350.2L477.2,352.5L478.2,358.5L476.8,363L474.5,369L472.2,375L470,380.2L467,384.8L463.2,385.5L461,382.5L461,376.5L463.2,370.5L464,364.5L464.8,361.5L468.5,360L471.5,357L473.8,353.2Z"/>
<path fill="#fc8d59" d="M493.9,371.7L493.7,372.1L493.2,372.3L492.8,372.1L492.6,371.7L492.8,371.3L493.2,371.1L493.7,371.3Z"/>
<path fill="#fc8d59" d="M463.7,349.2L463.6,349.4L463.2,349.5L462.9,349.4L462.8,349.2L462.9,349L463.2,348.9L463.6,349Z"/>
<path fill="#fc8d59" d="M491,330.4L490.9,330.7L490.7,330.8L490.5,330.7L490.4,330.4L490.5,330.2L490.7,330.1L490.9,330.2Z"/>
<path fill="#ffffbf" d="M400.2,393.2L404,394.8L407,392.5L407.8,385.8L410,388L413,386.8L415.2,384.7L419,384.7L422,382L425,378.2L427.7,376.3L431,376.3L433.7,376.8L434.8,381.2L435.5,385L436.2,389.2L435.8,392.5L433.2,397L430.2,400.8L426.5,403.8L422,406L416.8,407.2L411.5,407.5L407,409.3L404,408.7L402.5,406L403.2,402.2L401.8,398.5Z"/>
<path fill="#fc8d59" d="M422.8,396.2L425.8,393.6L428,395.5L425.3,398.9Z"/>
<path fill="#fc8d59" d="M431.8,387.2L433.7,385.8L435.8,387.2L434.8,389.8L432.5,389.5Z"/>
<path fill="#fc8d59" d="M446.5,136L448.8,131.5L453.2,128.8L460,127L466.8,126.7L467.2,128.2L461.5,129.2L457,130.8L454,133.8L453.2,136.8L457,139.3L454.8,140.2L450.2,138.7Z"/>
<path fill="#fc8d59" d="M493,119.5L497.5,118.3L503.5,119.5L508,121L508.8,123.2L503.5,122.8L498.2,121.8L494.5,121Z"/>
<path fill="#fc8d59" d="M510.2,122.5L514.8,122.2L517.8,123.2L514,124.5L510.7,124Z"/>
<path fill="#fc8d59" d="M430,119.2L435.7,118.9L434.5,120.2L430,120.7Z"/>
<path fill="#fc8d59" d="M573.8,128.5L579,127.8L585,128.5L587.2,129.7L583.5,131.2L578.2,131.5L575.2,130Z"/>
<path fill="#fc8d59" d="M588,129.2L592.5,129.2L596.7,130.3L594,131.2L590.2,130.3Z"/>
<path fill="#fc8d59" d="M658.1,139.6L657.5,139.8L656.5,139.5L655.6,138.9L655.4,138.4L656,138.2L657,138.5L657.9,139.1Z"/>
<path fill="#fc8d59" d="M639.2,177.8L643,180.8L647.5,185.2L652,190.5L657.2,197.2L656.5,198.3L653.5,195.8L649.8,191.2L646,186.8L642.2,182.2Z"/>
<path fill="#fc8d59" d="M655.8,201L658,200.2L661.8,203.2L665.5,203.7L666.7,205.5L664,206.7L661.8,208.5L660.2,210L658,208.5L656.5,205.5Z"/>
<path fill="#fc8d59" d="M660.2,210.8L662.5,211.5L664.8,215.2L666.2,219.8L667.8,224.2L667,227.2L664,228L661.8,228.8L659.5,230.2L656.5,231.8L653.5,231L650.5,230.2L649,228.8L651.2,226.8L654.2,225.8L657.2,224.2L659.5,221.2L661,216.8Z"/>
<path fill="#fc8d59" d="M646.8,231L649,229.8L651.2,231.8L652.8,234L652,237L649.8,236.7L647.8,234.3Z"/>
<path fill="#fc8d59" d="M653.5,232.2L657.2,231.3L658,232.8L655,233.7Z"/>
<path fill="#fc8d59" d="M658,169.5L660.2,165L664.8,165L668.5,168.8L672.2,173.2L675.2,177.8L674.5,181.5L675.2,186L672.2,183.8L668.5,180L664.8,177L661,174Z"/>
<path fill="#fc8d59" d="M539.5,190.8L542.5,188.5L547,186.7L553,187.8L557.5,187L558.2,184L563.5,184.8L568,186.7L574,187.8L580,188.2L586,189.2L590.5,187.8L595,188.5L597.2,192.2L599.5,193.8L604,194.8L607.8,196L604,197.5L599.5,200.5L595,203.5L592,207.2L584.5,209.5L575.5,208L568,207.2L562,205L556,201.2L550,199L546.2,195.2L542.5,193Z"/>
<path fill="#ffffbf" d="M539.5,190.8L542.5,193L546.2,195.2L550,199L556,201.2L562,205L568,207.2L575.5,208L584.5,209.5L592,207.2L595,203.5L599.5,200.5L604,197.5L607.8,196L604,194.8L599.5,193.8L597.2,192.2L598,189.2L601,187L599.5,183.2L601.8,181L606.2,180.2L611.5,182.2L616,185.5L620.5,188.5L625,190.8L629.5,193L633.2,192.2L636.2,193.8L637,197.5L636.2,201.2L638.5,205L640,206.5L636.2,208L631.8,211L627.2,213.2L623.5,215.5L620.5,213.2L617.5,214.8L615.2,217.8L619,219.2L623.5,220L626.5,219.2L628,221.5L625,224.5L623.5,227.5L626.5,230.5L629.5,234.2L632,236.5L634,240.2L633.5,244.4L631,249.7L627.5,254.2L623,257.2L618.5,259.4L614,261.7L609.5,262.4L605,262.4L602.8,259.4L599,258.7L594.5,259.8L593,260.2L590,261.7L587,258.7L585.5,254.9L584,250.4L582.5,247.4L580,245.5L577.8,243.2L574,242.2L570.2,244L568.8,245.5L565,244L561.2,245.2L557.5,244.8L551.5,243.2L546.2,241L541,239.5L537.2,235.8L535,232L532.8,228.2L529.8,226.8L526.8,223.8L524.5,220L522.2,217.8L520,214.8L521.5,212.5L524.5,210.2L529,208L531.2,205.8L529.8,202L533.5,199.3L532.8,196.8L538,193.8Z"/>
<path fill="url(#hatch)" d="M629.5,212.2L632.5,210L635.5,208.5L637.8,206.7L637,209.2L634.8,211.5L635.5,213.8L634.3,216.8L634.8,219.8L632.5,220.2L630.2,217.5L628.8,215.2Z"/>
<path fill="#ffffbf" d="M634.8,219.8L637.8,218.2L640.8,219.8L642.7,222.8L643,226.5L640.8,228.8L637.8,228L636.2,225L634.8,222.8Z"/>
<path fill="#fc8d59" d="M425,211.8L429,210.8L433,209.2L437,209.2L441,210.5L445,211.5L449.5,210.8L453,211.5L456,212L458,215L459.5,216.5L458.5,218.5L458,220.5L454,221.5L450,222L446,222.5L442.5,222.2L441,223.5L440,225L439,223L437,222L434,223L430,223.5L427,223L425,222L421,220L418,217L419.5,214.5L422.5,213Z"/>
<path fill="#fc8d59" d="M441,223.5L442.5,222.2L446,222.5L450,222L454,221.5L452.5,224.5L452,228L448.5,230.5L445,232.5L442.5,231.5L441.5,230L442,227.5L441,225.5Z"/>
<path fill="#fc8d59" d="M440.5,228.5L441.5,227.5L442,229.5L441,230.8L440,230.8Z"/>
<path fill="#91bfdb" d="M439.8,231.2L441,230.8L441.8,232L441.5,234.5L441,237.5L440.5,240L439.8,237.5L439.5,234Z"/>
<path fill="#fc8d59" d="M441.8,232L442.5,231.5L445,232.5L448.5,230.5L449.5,232.5L446.5,235L449,236.5L447.5,238.5L445,239.5L443,241.5L441,241.8L440.6,240L441,237.5L441.5,234.5Z"/>
<path fill="#fc8d59" d="M454,221.5L458,220.5L459.5,222.5L461.5,225L463,227.5L462.5,229.5L464.5,232.5L467,235.5L469,238.5L469.5,240.5L467,240.7L465,242L461.5,240L457,237L452,234L449.5,232.5L448.5,230.5L452,228L452.5,224.5Z"/>
<path fill="#ffffbf" d="M467,240.8L469.5,240.5L470.5,243L469,244L467.5,242.5Z"/>
<path fill="#91bfdb" d="M441,242L443,241.5L445,239.5L447.5,238.5L449,236.5L446.5,235L449.5,232.7L452,234L457,237L461.5,240L465,242L467.5,242.5L469,244L471,246L474,249L476.5,251L477,254L479.5,256.5L481,258L485,259.5L488,260.5L487.2,265L485,269L482.5,271L479.5,269.8L473.5,271L470.5,273.2L466,271.7L461.5,273.2L460,274.7L457.7,271L454.7,266.5L451.7,261.2L448.7,256L445.7,251.5L442.7,247Z"/>
<path fill="#fc8d59" d="M476.8,250.5L478,250L478.5,253L477.5,254.5L476.8,253Z"/>
<path fill="#fc8d59" d="M479.5,256.5L482,256L485,255L487,252.5L488.5,251L489,253L488,255L488.5,257L487.8,259.5L485,259.5L481,258Z"/>
<path fill="#fc8d59" d="M489,253L491,254.5L494,257L497,259.5L497.8,261.5L496.5,264L494.5,266L493,269L490.5,271L488,274L485,275L483,273L482.5,271L485,269L487.2,265L488,260.5L487.8,259.5L488.5,257L488,255Z"/>
<path fill="#fc8d59" d="M488,250.5L489,250L489.2,252L488.4,251.8Z"/>
<path fill="#fc8d59" d="M460,274.7L461.5,273.2L466,271.7L470.5,273.2L473.5,271L479.5,269.8L482.5,271L483,273L485,275L481,277.5L477,279.5L473,281L469.5,282.5L466.5,284L462.2,285.2L461.2,280Z"/>
<path fill="#fc8d59" d="M458,220.5L458.5,218.5L459.5,216.5L460.5,215.5L462.5,216.5L465,215.5L467.5,218L469,220.5L472,222L476,222.5L479,221.5L481,220L485,219.8L489,221L493,222.5L495,224.5L495.5,228.5L496.5,231.5L498.5,234.5L499.5,237.5L499,239.5L501,241.5L503.5,243.5L504,247L502,250L501,252L497,251.5L493,250.5L490,249.5L489,248.5L486.5,249L483,248L479.5,246L476,243.5L473,241L471,240L469.5,240.5L469,238.5L467,235.5L464.5,232.5L462.5,229.5L463,227.5L461.5,225L459.5,222.5Z"/>
<path fill="url(#hatch)" d="M455.8,211.8L457.5,211.5L459.5,213.5L460.5,215.5L459.5,216.2L458,215L456.5,213.5Z"/>
<path fill="#fc8d59" d="M450.2,208.8L453.5,207.2L458.8,208.8L462.5,210.2L459.5,211.8L456.2,212.2L455,211Z"/>
<path fill="#fc8d59" d="M459.5,211.8L462.5,210.2L465.5,208.8L468.5,212.5L470,217L466.2,218.5L464,220L461,217.3L460.2,215.5L458.8,212.8Z"/>
<path fill="#fc8d59" d="M457.2,190L459.5,186.2L465.5,184.3L473.8,185.5L483.5,186.2L485,184.3L481.2,181.8L483.5,178.8L491,176.5L497,175L500,176.5L504.5,179.5L510.5,178L515,181L521,184.8L527,187L533,189.2L539,190.8L537.5,193.8L533.8,196L533,199.8L529.2,202L530,204.2L531.5,208.8L527.8,207.2L521.8,206.5L516.5,207.2L512,208.8L511.2,210.2L507.5,211.8L503.8,210.2L500.8,206.5L497.8,204.2L492.5,205L488,202.8L482.8,199.8L478.2,202L479.3,205L479.8,210.2L476,208.8L472.2,207.2L468.5,204.2L470.8,201.2L472.2,197.5L467.8,196.8L462.5,199L458.8,196.8L456.8,193.8Z"/>
<path fill="#fc8d59" d="M479.3,205L478.2,202L482.8,199.8L488,202.8L492.5,205L497.8,204.2L500.8,206.5L503.8,210.2L507.5,211.8L511.2,210.2L512,211L515.8,212.2L512.8,213.2L510.5,214.8L508.2,217.8L506,220L503,219.2L500,216.2L497,213.2L492.5,210.2L488,208.8L485,207.2L482.8,210.2L479.8,210.2Z"/>
<path fill="#fc8d59" d="M476,208.8L479.8,210.2L482.8,210.2L485,207.2L488,208.8L492.5,210.2L497,213.2L500,216.2L503,219.2L506,220L504.5,222.2L500.8,223.8L497.8,226L494,223L489.5,220.8L485,219.2L481.2,220L478.2,221.5L475.2,217Z"/>
<path fill="#ffffbf" d="M512,208.8L516.5,207.2L521.8,206.5L527.8,207.2L531.5,208.8L527.8,211L524,212.5L520.2,214L516.5,214.8L513.5,215.2L510.5,214.8L512.8,213.2L515.8,212.2L512,211Z"/>
<path fill="#fc8d59" d="M508.2,217.8L510.5,214.8L513.5,215.2L516.5,214.8L520.2,214.3L521.8,219.2L522.5,221.5L518.8,222.7L515,221.5L512,220L509.8,220Z"/>
<path fill="#fc8d59" d="M497.8,226L500.8,223.8L504.5,222.2L506,220L508.2,217.8L509.8,220L512,220L515,221.5L518.8,222.7L522.5,221.5L526.2,223L521.8,222.2L518.8,224.5L518,229L516.5,233.5L515,237.2L512,240.2L508.2,241.8L503,241L500,242.5L497.8,240.2L496.2,235L497,230.5Z"/>
<path fill="#fff" d="M460.2,202L462.5,199L467.8,196.8L472.2,197.5L470.8,201.2L468.5,204.2L472.2,207.2L476,208.8L477.5,211L475.2,212.5L476,216.2L479,220L478.2,222.7L473.8,222.2L470,220L467.8,216.2L468.5,212.5L465.5,208.8L462.5,205.8Z"/>
<path fill="#ffffbf" d="M501.5,252.8L503.8,249.8L503,246.8L500,244.5L502.2,242.7L507.5,243.8L512,242.2L515,239.2L516.5,235.5L518,231L518.8,226.5L521.8,224.2L530,224.2L531.5,228L529.2,229.5L526.2,231.8L528.5,234.8L527.8,238.5L525.5,241.5L522.5,243.8L519.5,245.2L518.8,248.2L521,251.2L522.5,254.2L520.2,255L517.2,255.8L514.2,254.2L511.2,252.3L506,252.4Z"/>
<path fill="#fc8d59" d="M517.2,255.8L520.2,255L522.5,254.2L521,251.2L518.8,248.2L519.5,245.2L522.5,243.8L525.5,241.5L527.8,238.5L528.5,234.8L526.2,231.8L529.2,229.5L531.5,228L535.2,225L536.8,229.5L536,233.2L539,237L541.2,240.8L541.7,243L545,244.5L550.2,246.8L555.5,248.2L560,249L559.7,246L562.2,245.2L562.7,247.5L565.2,248.2L568.7,247.8L569.3,246L569.3,243.8L572.8,242.2L576.5,243L580.2,244.5L582.5,247.5L581,249.8L578.8,252L576.5,255L575,257.2L573.5,260.2L572,262.5L570.8,260.2L570.5,254.2L568.2,252L565.2,250.5L562.2,251.2L563.8,257.2L565.2,261L563,262.5L559.2,265.5L555.5,269.2L551.8,273L548.8,276.8L546.8,280.5L547.2,285L546.5,289.5L545,294L543.5,297L541.2,296.2L538.2,291.8L535.2,286.5L533,282L530.8,276.8L529.2,271.5L527.8,266.2L525.5,263.2L521.8,261.8L518.8,258.8Z"/>
<path fill="#ffffbf" d="M541.2,240.8L544.2,239.2L549.5,241.5L554.8,243.8L559.2,246L560,249L555.5,248.2L550.2,246.8L545,244.5L541.7,243Z"/>
<path fill="#fc8d59" d="M562.2,245.2L566,244.5L569.3,245.7L568.7,247.8L565.2,248.2L562.7,247.5Z"/>
<path fill="#fc8d59" d="M562.2,251.2L565.2,250.5L568.2,252L570.5,254.2L570.8,260.2L571.2,264L569.8,262.5L567.5,261L565.2,261L563.8,257.2Z"/>
<path fill="#fc8d59" d="M547.2,293.2L549.2,294L551,297L551.3,300.8L549.2,302.7L547.2,300.8L546.5,297Z"/>
<path fill="#fc8d59" d="M572.8,260.2L575,257.2L576.5,255L578.8,252L581,249.8L582.5,247.5L584,250.5L585.5,255L587,258.8L590,261.8L591.5,264.3L589.2,266.2L586.2,268.5L585.5,271.5L587.8,275.2L589.2,279L590,282.8L590.8,286.5L591.5,291L590,289.5L588.5,285L587.8,280.5L585.5,276.8L582.5,275.2L580.2,277.5L578,276L577.7,271.5L575,267L572.8,264Z"/>
<path fill="#fc8d59" d="M585.5,271.5L586.2,268.5L589.2,266.2L590.8,268.5L593,271.5L597.5,272.2L601.2,274.5L602.8,278.2L601.2,281.2L598.2,282.8L597.5,285L594.5,284.2L592.2,282.8L591.2,286.5L591.8,290.2L592.4,294.4L594.6,298.2L597.6,301.2L596.1,302.9L593.1,300.6L590.8,297.6L589.2,293.7L589.1,289.8L590,282.8L589.2,279L587.8,275.2Z"/>
<path fill="#91bfdb" d="M590,261.8L593,260.2L596,262.5L599,264.8L599.8,267.8L602.8,270.8L605.8,274.5L608,278.2L608.3,281.7L605,282L602.8,278.2L601.2,274.5L597.5,272.2L593,271.5L590.8,268.5L591.5,264.3Z"/>
<path fill="#fc8d59" d="M594.5,259.8L599,258.8L602.8,259.5L605,262.5L607.2,264.8L605,266.2L603.5,268.5L605.8,271.5L608.8,275.2L611.8,279.8L613.2,284.2L612.2,288L609.5,291L606.5,294L604.2,295.5L603.5,292.5L606.5,289.5L608.8,286.5L608.3,281.7L608,278.2L605.8,274.5L602.8,270.8L599.8,267.8L599,264.8L596,262.5L593,260.2Z"/>
<path fill="#ffffbf" d="M597.5,285L598.2,282.8L601.2,281.2L605,282L608.3,281.7L608.8,286.5L606.5,289.5L603.5,291L600.5,289.5L598.2,287.2Z"/>
<path fill="#ffffbf" d="M610.2,267L612.5,266.2L614,268.5L612.5,270.8L610.2,270Z"/>
<path fill="#ffffbf" d="M634.2,253.5L635.8,252L636.8,255.8L635.8,260.2L634.2,261L633.5,257.2Z"/>
<path fill="#91bfdb" d="M582.5,305L586.2,304.2L590,307.2L593.8,311L597.5,315.5L601.2,320L605,323.8L607.2,326.8L607.7,331.2L606.5,333.8L603.5,332L600.5,329L597.5,325.2L594.5,320.8L591.5,315.5L587.8,310.2L584,307.2Z"/>
<path fill="#ffffbf" d="M593.8,302.8L596,302.8L598.2,302L600.5,305.8L602.8,310.2L603.5,314L601.2,314.8L599,312.5L596,309.5L594.2,305.8Z"/>
<path fill="#ffffbf" d="M615.5,314.8L618.5,313.2L622.2,310.2L626.8,307.2L629.8,305L632,300.5L635,301.2L637.2,304.2L635,307.2L632.8,307.7L629.8,308.8L626,311L623,313.2L620,315.5L617,316.2Z"/>
<path fill="#fc8d59" d="M626.8,306.2L628.2,304.7L629,306.5L627.5,307.2Z"/>
<path fill="#91bfdb" d="M615.5,314.8L617,316.2L620,315.5L623,313.2L626,311L629.8,308.8L632.8,307.7L634.2,310.2L635,313.2L637.2,315.5L635,317.8L633.5,321.5L631.2,325.2L628.2,328.2L624.5,327.5L620,326.8L617.8,325.2L617,322.2L614.8,319.2L614.3,316.7Z"/>
<path fill="#91bfdb" d="M638,323.8L639.5,320L642.5,317L647,315.8L651.5,314.8L650.8,317L647,318.2L644,319.2L641.8,321.5L644,322.2L647.8,320.8L647,323L644,324.5L644.8,327.5L647,331.2L645.5,332.8L643.2,329.8L641.8,327.5L641,330.5L640.2,333.5L638.3,332.8L637.7,329L637.2,326Z"/>
<path fill="#91bfdb" d="M657.2,314L658.7,313.2L659.8,316.2L659,319.2L657.8,320L657.5,317Z"/>
<path fill="#91bfdb" d="M605.8,335L608.8,334.2L614,335.3L619.2,336.5L624.5,338.8L628.2,340.2L627.5,341.8L623,341L617.8,339.5L612.5,338.3L608,337.2Z"/>
<path fill="#91bfdb" d="M631.7,341L634.2,340.6L636.5,341.3L636.2,342.5L633.5,342.5Z"/>
<path fill="#91bfdb" d="M638,340.2L641.8,339.8L645.5,340.6L645.2,341.8L641,341.8Z"/>
<path fill="#91bfdb" d="M636.5,343.7L638.8,343.4L640.2,344.6L638,345.5Z"/>
<path fill="#91bfdb" d="M646.2,344L649.2,341.8L650.8,342.5L648.5,345.2Z"/>
<path fill="#fc8d59" d="M650,342.2L653,340.7L656,340.2L655.2,341.8L652.2,343.2L650.8,342.8Z"/>
<path fill="#91bfdb" d="M653,327.5L656.8,327.2L656.8,328.4L653.3,328.7Z"/>
<path fill="#91bfdb" d="M658.2,326.8L664.2,326.4L664.5,327.8L658.5,327.9Z"/>
<path fill="#91bfdb" d="M664.2,321.5L668,320L671.8,320.8L673.2,323.8L671.8,325.7L674,326.8L677,324.5L681.5,323L686,323.8L688.2,325.2L687.5,340.2L685.2,339.5L682.2,338.8L680,340.2L680.8,337.2L683.8,335L682.2,332.8L678.5,331.2L674.8,330.2L672.5,330.8L670.7,328.7L668.8,325.2L666.5,323.3Z"/>
<path fill="#91bfdb" d="M673.4,335.3L673.2,336.1L672.8,336.5L672.4,336.1L672.2,335.3L672.4,334.5L672.8,334.1L673.2,334.5Z"/>
<path fill="#fc8d59" d="M637.2,270.5L641,270.2L642,273.5L640.5,277L641,280.5L644,281.5L646.5,282.5L647,285L645.5,284.5L643.5,283L640.5,283.5L638.5,280.5L636.5,277.5L637,274Z"/>
<path fill="#fc8d59" d="M638.5,283.5L640.5,284L641,286L639.5,285.5Z"/>
<path fill="#fc8d59" d="M648,286L650.5,286.5L651.5,289.5L650,291.5L649.2,289.5L648.5,287.5Z"/>
<path fill="#fc8d59" d="M642.2,288L644.5,288.5L645.5,290.5L647,291L646.5,293.5L645,294.5L644,292.5L642.8,290.5Z"/>
<path fill="#fc8d59" d="M643.5,299L645.5,297L648.5,296L650.5,294.5L652,293.5L653.5,296L654,299.5L653,302.5L651.5,304L650,302L648.5,300L646.5,299L644.5,300.5Z"/>
<path fill="#fc8d59" d="M632.2,296.5L634.5,293.5L637,289.5L637.8,290L635.5,294L633,296.8Z"/>
<path fill="#fc8d59" d="M614,407L617,401L618,394L617,388L619,381L620,376L626,373L633,370L640,367L643,362L648,358L653,355L658,357L662,353L666,349L671,350L676,351L674,355L677,359L681,363L684,365L686.4,360L687.6,354L689,348L691,350L692.4,356L695,362L698,368L701,373L703,379L705,385L705.6,390L704,396L701,401L698,406L693,411L688,416L683,419L678,420L674,418L670,419L666,416L665,411L662.4,409L664.4,405L660,409L657,406L653,403L647,401L641,402L635,404L630,406L624,408L619,410L615,409Z"/>
<path fill="#fc8d59" d="M668,428L672,425.6L677,425L675.6,429L672,432L668.4,432Z"/>
<path fill="#ffffbf" d="M739,409L741,410L741.6,414L745,416L747,417.6L743,420L740,423L736,426L732.4,427L733,424L735,421L738,418L739,414Z"/>
<path fill="#ffffbf" d="M705.6,439L709,436L715,433L721,430L726,427L729.6,425L731,427L728,430L723,433L718,436L712,439L707,440.4Z"/>
<path fill="#fc8d59" d="M687.8,325.5L691.2,326.2L695,328.5L698.8,332.2L702.5,334.5L703.2,336L700.2,336.8L702.5,340.5L705.5,343.5L708.5,345L708.2,346.5L704.8,345L701,342L698,339.8L695,341.2L691.2,342.8L687.8,342.8Z"/>
<path fill="#fc8d59" d="M704.8,333.3L707.8,333.8L710.8,332.2L713,330L712.2,327.8L710.8,325.5L712.2,325.2L714.5,327L715.7,330L713.8,332.7L710.8,334.8L707,335.2Z"/>
<path fill="#fc8d59" d="M719,331.8L720.2,332.2L721.2,335.2L720.5,336.8L719.3,334.5Z"/>
<path fill="#ffffbf" d="M722.8,336L725,336.9L724.7,337.8L722.6,336.9Z"/>
<path fill="#ffffbf" d="M727.2,337.8L730.2,339.3L731,340.5L728.8,339.8Z"/>
<path fill="#ffffbf" d="M731.8,340.2L734,342L733.7,343.5L732.2,342.3Z"/>
<path fill="#ffffbf" d="M729.5,342.8L731.8,343.5L731.5,344.6L729.5,343.8Z"/>
<path fill="#ffffbf" d="M733.2,345L735.5,346.1L735.2,347.1L733.1,345.9Z"/>
<path fill="#fc8d59" d="M743.3,357L744.5,357L744.8,360L745.7,361.5L744.5,361.8L743.6,359.7Z"/>
<path fill="url(#hatch)" d="M734.3,371.7L735.8,370.8L740.3,376.2L739.2,377.4Z"/>
<path fill="#ffffbf" d="M766.2,364.5L767.8,363.8L769.2,364.8L768.5,366.3L766.7,366.3Z"/>
<path fill="#ffffbf" d="M770,361.5L773.8,360.3L774,361.2L770.5,362.4Z"/>
<path fill="#fc8d59" d="M9,267L10.5,265.8L12.3,267.4L10.2,269.7Z"/>
<path fill="#fc8d59" d="M7.4,263.5L7,263.7L6.3,263.4L5.7,263L5.5,262.7L5.9,262.5L6.6,262.8L7.2,263.2Z"/>
<path fill="#fc8d59" d="M9.4,264.8L9.1,264.9L8.6,264.7L8.1,264.4L8,264.1L8.3,264L8.8,264.2L9.3,264.5Z"/>
<path fill="#fc8d59" d="M3.1,261.1L3,261.4L2.7,261.5L2.4,261.4L2.2,261.1L2.4,260.9L2.7,260.8L3,260.9Z"/>
<path fill="#fc8d59" d="M0.6,313.5L0.5,313.8L0.2,313.9L-0.2,313.8L-0.3,313.5L-0.2,313.2L0.1,313.1L0.5,313.2Z"/>
<path fill="#fc8d59" d="M305.9,274L305.8,274.3L305.4,274.4L305.1,274.3L305,274L305.1,273.7L305.4,273.6L305.8,273.7Z"/>
<path fill="#fc8d59" d="M307.7,275.2L307.6,275.5L307.2,275.6L306.9,275.5L306.8,275.2L306.9,274.9L307.2,274.8L307.6,274.9Z"/>
<path fill="#fc8d59" d="M311.1,276.2L311,276.5L310.7,276.6L310.4,276.5L310.2,276.2L310.4,276L310.7,275.9L311,276Z"/>
<path fill="#fc8d59" d="M309.5,279.2L309.3,279.5L308.8,279.6L308.2,279.5L308,279.2L308.2,279L308.8,278.9L309.3,279Z"/>
<path fill="#fc8d59" d="M222.9,278.2L222.8,278.5L222.5,278.6L222.2,278.5L222.1,278.2L222.2,277.9L222.5,277.8L222.8,277.9Z"/>
<path fill="#fc8d59" d="M226.7,284.2L226.6,284.5L226.2,284.6L225.9,284.5L225.8,284.2L225.9,283.9L226.2,283.8L226.6,283.9Z"/>
<path fill="#fc8d59" d="M171,261L173.5,259L177.5,258L181.5,258.5L185.5,260L189,262.2L192,264.5L194.8,265.5L194,266.5L190,266.2L187,266.5L188,265L185.5,263L182.5,261.5L179,260L175.5,259.8L172.5,261.5Z"/>
<path fill="#fc8d59" d="M186.2,248.8L189,248.2L190.5,249L190,250.5L188.5,249.5L186.5,249.5Z"/>
<path fill="#fc8d59" d="M187,253L188.5,253.5L189,256.5L187.8,256.2Z"/>
<path fill="#fc8d59" d="M196.5,267L199.5,266.5L202,266.8L204.5,268L207,269.5L207.5,270.8L205,271.2L202.5,270.8L200.5,272.5L199.5,271.2L197,270.5L194,271.2L193.8,270.2L196.5,269.8L198,269Z"/>
<path fill="#fc8d59" d="M185.2,270.5L187.5,270.2L189.8,271.2L188.5,272.2L186.2,272Z"/>
<path fill="#fc8d59" d="M210,270.5L213.5,270.2L214,271.5L210.5,271.8Z"/>
<path fill="#fc8d59" d="M159.4,136.8L162.9,134.5L167.6,132.1L173.5,131.5L178.8,132.7L177.1,134.5L173.5,135.6L169.4,137.4L164.1,138.8L161.2,138.4Z"/>
<path fill="#fc8d59" d="M167.6,139.8L170.6,137.4L175.9,135.6L180.6,134.8L185.3,135.1L190,133.9L194.1,133.3L196.5,134.5L194.7,136.2L192.4,137.4L194.7,139.8L196.5,141.5L201.8,142.1L202.4,143.3L198.2,143.9L195.3,142.9L191.2,143.3L186.5,143.1L182.9,143.3L179.4,143.9L175.3,143.3L171.8,142.7L168.8,142.1Z"/>
<path fill="#fc8d59" d="M175.3,128L179.4,126.6L185.3,125.4L189.4,125.6L188.2,127.4L191.2,128L195.9,126.8L199.4,127.4L201.2,128.9L197.1,129.8L192.4,130.1L187.6,130.9L184.1,129.8L180.6,129.2L177.6,128.9Z"/>
<path fill="#fc8d59" d="M194.1,125.1L198.2,123.1L201.8,123.3L199.4,124.7L195.9,125.6Z"/>
<path fill="#fc8d59" d="M208.2,122.7L211.8,122.1L214.7,123.1L214.1,124.2L210.6,123.9Z"/>
<path fill="#fc8d59" d="M205.3,128.6L208.8,127.4L212.4,127.4L213.5,129.2L211.2,130.4L207.6,130.4Z"/>
<path fill="#fc8d59" d="M215.9,126.2L219.4,125.4L221.8,126.2L220.6,127.4L217.6,127.4Z"/>
<path fill="#fc8d59" d="M219.4,129.2L222.9,128L227.6,128.6L232.4,128.9L237.6,129.2L238.8,130.4L234.7,131.3L230,131.5L225.3,131.3L221.2,130.9Z"/>
<path fill="#fc8d59" d="M224.7,120.4L228.2,118.8L234.7,118L240.6,116.8L250,116L255.9,115.8L262.9,115.8L268.8,116.2L266.5,118L261.8,119.8L255.9,121.5L250,125.6L244.1,126.8L239.4,127.4L234.7,126.8L232.4,125.6L228.2,126.6L227.1,125.1L231.2,123.9L234.7,123.1L231.2,122.1L226.5,122.7Z"/>
<path fill="#fc8d59" d="M198.8,135.3L202.4,133.6L206.5,132.9L208.8,133.6L206.5,135.6L204.1,137.4L201.8,138L200,136.8Z"/>
<path fill="#fc8d59" d="M209.4,134.5L212.9,132.9L217.1,132.1L218.8,133.3L215.9,135.1L212.4,136.2L210,136.2Z"/>
</g>
</g>
</svg>
<div id="title"><span style="left:0.30px;letter-spacing:0.089px">Income</span><span style="left:90.40px;letter-spacing:0.771px">support</span><span style="left:184.70px;letter-spacing:0.400px">during</span><span style="left:265.20px;letter-spacing:0.133px">the</span><span style="left:307.50px;letter-spacing:-1.733px">COVID-</span><span style="left:395.20px;transform:scale(0.870,0.76);transform-origin:0 25.1px;-webkit-text-stroke:1.6px #363636">19</span><span style="left:427.40px;letter-spacing:0.142px">pandemic,</span><span style="left:549.70px;letter-spacing:-0.923px">Dec</span><span style="left:598.00px;transform:scale(0.753,0.76);transform-origin:0 25.1px;-webkit-text-stroke:1.6px #363636">31,</span><span style="left:631.90px;transform:scale(0.948,0.76);transform-origin:0 25.1px;-webkit-text-stroke:1.6px #363636">2022</span></div>
<div class="sub" id="sub1">Income support captures if the government is covering the salaries or providing direct cash payments,</div>
<div class="sub" id="sub2">universal basic income, or similar, of people who lose their jobs or cannot work.</div>
<div id="logo"><span>Our World</span><span>in Data</span></div>

<svg style="position:absolute;left:0;top:500px" width="850" height="40" viewBox="0 500 850 40">
<rect x="141.3" y="517" width="48.4" height="11.4" fill="url(#hatch)" stroke="#bbb" stroke-width="0.5"/>
<rect x="208.9" y="517" width="166.6" height="11.4" fill="#fc8d59" stroke="#aaa" stroke-width="0.3"/>
<rect x="375.5" y="517" width="166.6" height="11.4" fill="#ffffbf" stroke="#aaa" stroke-width="0.3"/>
<rect x="542.1" y="517" width="166.6" height="11.4" fill="#91bfdb" stroke="#aaa" stroke-width="0.3"/>
</svg>
<div class="tick" style="left:165px"></div>
<div class="tick" style="left:292px"></div>
<div class="tick" style="left:458.5px"></div>
<div class="tick" style="left:625px"></div>
<div class="lt" style="left:165.5px">No data</div>
<div class="lt" style="left:292.7px;letter-spacing:0.18px">No income support</div>
<div class="lt" style="left:456.8px">Covers &lt;50% of lost salary</div>
<div class="lt" style="left:622.4px">Covers &gt;50% of lost salary</div>

<div class="foot" id="f1" style="left:15.7px;top:549.5px;letter-spacing:-0.055px"><b>Data source:</b> Blavatnik School of Government, University of Oxford (2023)</div>
<div class="foot" id="f2" style="left:15.7px;top:569.3px;letter-spacing:-0.09px"><b>Note:</b> This income support may not apply to workers in all sectors, and may vary at the sub-national level.</div>
<div class="foot" id="f3" style="right:19px;top:549.5px;letter-spacing:-0.066px;transform-origin:right center">OurWorldinData.org/coronavirus | CC BY</div>
</body>
</html>
